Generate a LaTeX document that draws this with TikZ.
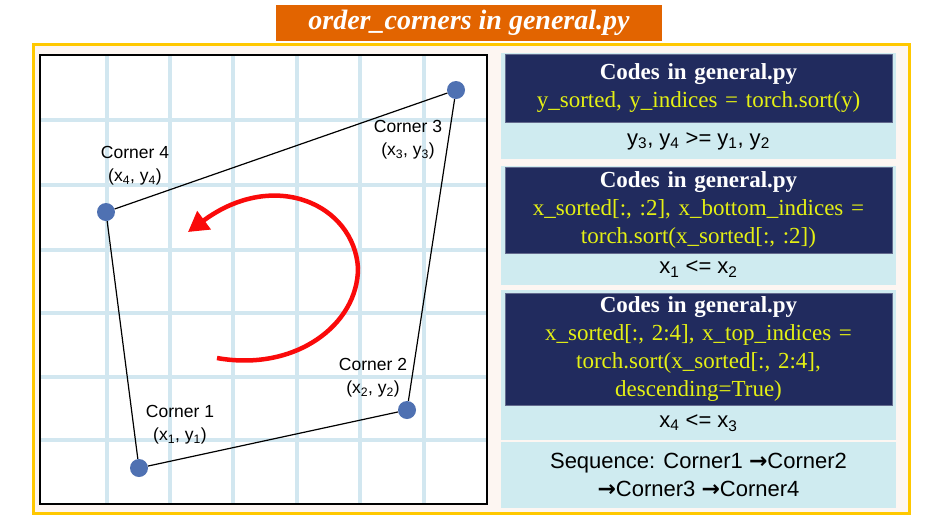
\documentclass[tikz,border=0pt]{standalone}
\usepackage{fontspec}
\setmainfont{Liberation Serif}
\newfontfamily\arialfont{Liberation Sans}
\newfontfamily\arrowfont{DejaVu Sans}
\usetikzlibrary{arrows.meta, positioning}
\definecolor{titleorange}{RGB}{226,100,0}
\definecolor{framegold}{RGB}{255,200,0}
\definecolor{framefill}{RGB}{253,246,242}
\definecolor{codenavy}{RGB}{33,43,94}
\definecolor{codeyellow}{RGB}{228,240,20}
\definecolor{resultcyan}{RGB}{207,235,240}
\definecolor{dotblue}{RGB}{79,113,178}
\definecolor{gridblue}{RGB}{210,231,240}
\definecolor{arcred}{RGB}{250,10,10}
\newcommand{\seqarrow}{{\arrowfont\bfseries →}}

\begin{document}
\begin{tikzpicture}[x=1pt, y=-1pt,
    corner/.style={circle, fill=dotblue, minimum size=18pt, inner sep=0pt},
    cornerlabel/.style={align=center, inner sep=0pt, font=\arialfont\fontsize{17.5}{23}\selectfont},
    codebox/.style={fill=codenavy, draw=codenavy!70!white, line width=0.6pt, text=codeyellow, minimum width=387pt, text width=387pt, inner sep=0pt, align=center, font=\fontsize{23}{28}\selectfont},
    resultbox/.style={align=center, inner sep=0pt, font=\arialfont\fontsize{22}{28}\selectfont}
]
    \useasboundingbox (0,0) rectangle (943,531);

    % Outer frame and title
    \draw[framegold, line width=3pt, fill=framefill] (33,44) rectangle (909,513);
    \node[fill=titleorange, text=white, minimum width=386pt, minimum height=36pt, inner sep=0pt,
          font=\fontsize{28}{30}\selectfont\bfseries\itshape] (title) at (469,23) {order\_corners in general.py};

    % Grid panel
    \fill[white] (40,55) rectangle (487,504);
    \begin{scope}
        \clip (40,55) rectangle (487,504);
        \foreach \gx in {107,170,233,297,360,424} {
            \draw[gridblue, line width=4pt] (\gx,55) -- (\gx,504);
        }
        \foreach \gy in {120,185,250,313,377,440} {
            \draw[gridblue, line width=4pt] (40,\gy) -- (487,\gy);
        }
    \end{scope}
    \draw[black, line width=1.5pt] (40,55) rectangle (487,504);

    % Corners of the quadrilateral
    \node[corner] (c1) at (139,468) {};
    \node[corner] (c2) at (407,410) {};
    \node[corner] (c3) at (456,90) {};
    \node[corner] (c4) at (106,212) {};
    \draw[line width=1.2pt] (c1) -- (c2) -- (c3) -- (c4) -- (c1);

    \node[cornerlabel] (l1) at (180,425) {Corner 1\\(x\textsubscript{1}, y\textsubscript{1})};
    \node[cornerlabel] (l2) at (373,378) {Corner 2\\(x\textsubscript{2}, y\textsubscript{2})};
    \node[cornerlabel] (l3) at (408,140) {Corner 3\\(x\textsubscript{3}, y\textsubscript{3})};
    \node[cornerlabel] (l4) at (135,166) {Corner 4\\(x\textsubscript{4}, y\textsubscript{4})};

    % Counter-clockwise arrow
    \draw[arcred, line width=4.5pt, -{Triangle[length=20pt, width=22pt]}]
        (217,358) .. controls (295,372) and (358,325) .. (358,268)
        .. controls (354,205) and (275,168) .. (188,232);

    % Code boxes
    \fill[resultcyan] (501,53) rectangle (896,159);
    \fill[resultcyan] (501,166) rectangle (896,285);
    \fill[resultcyan] (501,290) rectangle (896,440);
    \fill[resultcyan] (501,442) rectangle (896,508);

    \node[codebox, minimum height=68pt] (code1) at (698.5,88)
        {\textcolor{white}{\textbf{Codes in general.py}}\\y\_sorted, y\_indices = torch.sort(y)};
    \node[resultbox] (res1) at (698.5,141)
        {y\textsubscript{3}, y\textsubscript{4} >= y\textsubscript{1}, y\textsubscript{2}};

    \node[codebox, minimum height=86pt] (code2) at (698.5,210)
        {\textcolor{white}{\textbf{Codes in general.py}}\\x\_sorted[:, :2], x\_bottom\_indices =\\torch.sort(x\_sorted[:, :2])};
    \node[resultbox] (res2) at (698.5,269) {x\textsubscript{1} <= x\textsubscript{2}};

    \node[codebox, minimum height=112pt] (code3) at (698.5,349)
        {\textcolor{white}{\textbf{Codes in general.py}}\\x\_sorted[:, 2:4], x\_top\_indices =\\torch.sort(x\_sorted[:, 2:4],\\descending=True)};
    \node[resultbox] (res3) at (698.5,423) {x\textsubscript{4} <= x\textsubscript{3}};
    \node[resultbox] (seq) at (698.5,475) {Sequence: Corner1 \seqarrow Corner2\\\seqarrow Corner3 \seqarrow Corner4};
\end{tikzpicture}
\end{document}
